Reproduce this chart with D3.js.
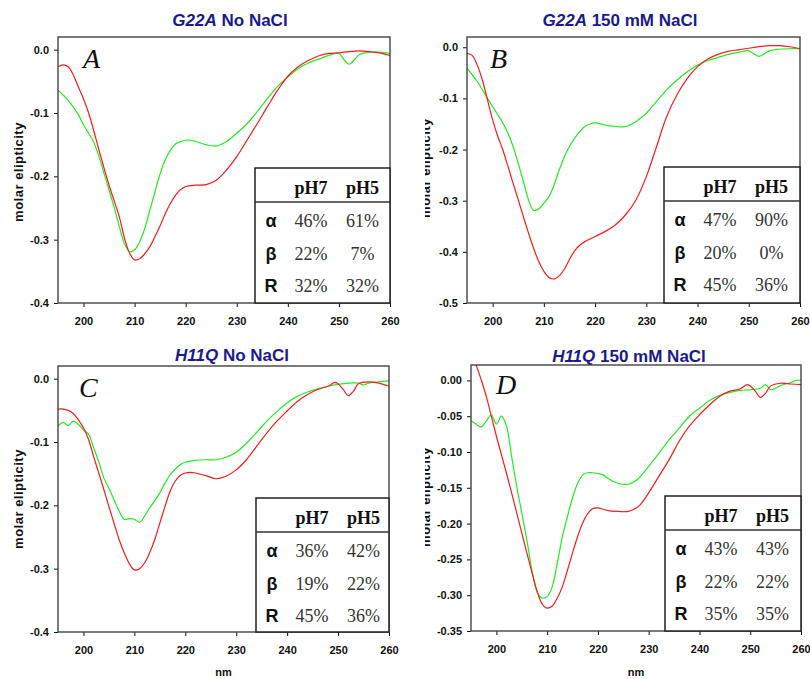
<!DOCTYPE html>
<html>
<head>
<meta charset="utf-8">
<script src="https://cdn.jsdelivr.net/npm/d3@7"></script>
<style>
  body { margin: 0; background: #fff; }
  svg { display: block; }
  .tick text { font-family: Arial, "Liberation Sans", sans-serif; font-weight: bold; font-size: 11px; fill: #111; }
</style>
</head>
<body>
<svg id="chart" width="810" height="679"></svg>
<script>
// ---------------- DATA ----------------
// Panel A : G22A, no NaCl
const nmA_red = [195,196,197,198,199,200,201,202,203,205,207,208,209,210,211,212,213,214,215,216,217,218,219,220,222,224,226,228,230,232,234,236,238,240,242,244,246,248,250,252,254,256,258,260];
const cdA_red = [-0.027,-0.024,-0.027,-0.040,-0.059,-0.078,-0.100,-0.128,-0.158,-0.214,-0.264,-0.297,-0.321,-0.332,-0.330,-0.322,-0.311,-0.295,-0.278,-0.259,-0.243,-0.230,-0.221,-0.216,-0.214,-0.213,-0.206,-0.190,-0.169,-0.143,-0.117,-0.090,-0.064,-0.042,-0.027,-0.017,-0.010,-0.006,-0.005,-0.003,-0.002,-0.003,-0.005,-0.009];
const nmA_green = [195,197,199,200,201,202,203,204,205,206,207,208,209,210,211,212,213,214,215,216,217,218,219,220,221,222,224,226,228,230,232,234,236,238,240,242,244,246,248,250,251,252,253,254,256,258,260];
const cdA_green = [-0.064,-0.080,-0.103,-0.119,-0.132,-0.146,-0.168,-0.195,-0.222,-0.249,-0.279,-0.306,-0.319,-0.316,-0.303,-0.282,-0.253,-0.224,-0.196,-0.174,-0.159,-0.149,-0.145,-0.143,-0.143,-0.145,-0.150,-0.152,-0.145,-0.132,-0.117,-0.098,-0.077,-0.058,-0.043,-0.030,-0.021,-0.015,-0.009,-0.006,-0.016,-0.023,-0.016,-0.008,-0.004,-0.004,-0.006];

// Panel B : G22A, 150 mM NaCl
const nmB_red = [195,196,197,198,199,200,201,202,203,204,205,206,207,208,209,210,211,212,213,214,215,216,217,218,220,222,224,226,228,230,232,234,236,238,240,242,244,246,248,250,252,254,256,258,260];
const cdB_red = [-0.012,-0.016,-0.035,-0.064,-0.103,-0.142,-0.174,-0.201,-0.233,-0.266,-0.298,-0.331,-0.363,-0.393,-0.419,-0.438,-0.450,-0.453,-0.447,-0.434,-0.415,-0.398,-0.387,-0.380,-0.370,-0.360,-0.347,-0.327,-0.298,-0.253,-0.194,-0.135,-0.093,-0.061,-0.038,-0.023,-0.014,-0.008,-0.005,-0.002,0.001,0.003,0.003,0.001,-0.003];
const nmB_green = [195,197,199,200,201,202,203,204,205,206,207,208,209,210,211,212,213,214,215,216,217,218,219,220,222,224,226,228,230,232,234,236,238,240,242,244,246,248,250,251,252,253,254,256,258,260];
const cdB_green = [-0.041,-0.067,-0.100,-0.116,-0.132,-0.148,-0.168,-0.194,-0.227,-0.262,-0.298,-0.319,-0.316,-0.305,-0.292,-0.269,-0.240,-0.214,-0.194,-0.178,-0.165,-0.155,-0.150,-0.148,-0.152,-0.155,-0.155,-0.145,-0.129,-0.106,-0.083,-0.064,-0.048,-0.035,-0.026,-0.020,-0.014,-0.010,-0.007,-0.013,-0.018,-0.013,-0.007,-0.004,-0.003,-0.003];

// Panel C : H11Q, no NaCl
const nmC_red = [195,196,197,198,199,200,201,202,203,204,205,206,207,208,209,210,211,212,213,214,215,216,217,218,219,220,221,222,224,226,228,230,232,234,236,238,240,242,244,246,248,249.5,251,252,253,254,256,258,260];
const cdC_red = [-0.048,-0.048,-0.050,-0.055,-0.065,-0.078,-0.096,-0.123,-0.149,-0.175,-0.202,-0.228,-0.254,-0.275,-0.292,-0.302,-0.300,-0.291,-0.275,-0.254,-0.228,-0.202,-0.178,-0.162,-0.153,-0.149,-0.148,-0.149,-0.153,-0.158,-0.154,-0.144,-0.128,-0.107,-0.086,-0.067,-0.051,-0.036,-0.025,-0.017,-0.012,-0.006,-0.017,-0.027,-0.020,-0.008,-0.005,-0.007,-0.012];
const nmC_green = [195,196,197,198,199,200,201,202,203,204,205,206,207,208,209,210,211,212,213,214,215,216,217,218,219,220,222,224,226,228,230,232,234,236,238,240,242,244,246,248,250,252,254,255,256,258,260];
const cdC_green = [-0.075,-0.069,-0.074,-0.067,-0.072,-0.081,-0.088,-0.109,-0.131,-0.157,-0.173,-0.191,-0.209,-0.222,-0.221,-0.222,-0.227,-0.217,-0.204,-0.193,-0.180,-0.165,-0.152,-0.143,-0.136,-0.132,-0.129,-0.128,-0.128,-0.124,-0.116,-0.102,-0.085,-0.067,-0.052,-0.038,-0.028,-0.021,-0.016,-0.012,-0.009,-0.007,-0.007,-0.010,-0.007,-0.005,-0.003];

// Panel D : H11Q, 150 mM NaCl
const nmD_red = [195,196,197,198,199,200,201,202,203,204,205,206,207,208,209,210,211,212,213,214,215,216,217,218,219,220,221,222,224,226,228,230,232,234,236,238,240,242,244,246,248,249.5,251,252,253,254,256,258,260];
const cdD_red = [0.043,0.022,0.001,-0.022,-0.050,-0.078,-0.104,-0.130,-0.157,-0.185,-0.213,-0.241,-0.268,-0.294,-0.312,-0.318,-0.315,-0.304,-0.288,-0.265,-0.241,-0.218,-0.199,-0.186,-0.179,-0.178,-0.180,-0.182,-0.183,-0.183,-0.176,-0.157,-0.134,-0.111,-0.085,-0.064,-0.048,-0.034,-0.022,-0.015,-0.012,-0.006,-0.015,-0.024,-0.018,-0.008,-0.004,-0.005,-0.006];
const nmD_green = [195,196,197,198,199,200,201,202,203,204,205,206,207,208,209,210,211,212,213,214,215,216,217,218,219,220,221,222,223,224,226,227,228,230,232,234,236,238,240,242,244,246,248,250,252,253,254,255,256,258,259,260];
const cdD_green = [-0.056,-0.061,-0.065,-0.057,-0.048,-0.061,-0.050,-0.064,-0.106,-0.148,-0.185,-0.223,-0.265,-0.295,-0.304,-0.302,-0.288,-0.255,-0.218,-0.190,-0.164,-0.144,-0.132,-0.129,-0.129,-0.130,-0.132,-0.137,-0.141,-0.144,-0.145,-0.142,-0.137,-0.120,-0.102,-0.083,-0.067,-0.050,-0.039,-0.028,-0.021,-0.017,-0.014,-0.013,-0.011,-0.006,-0.013,-0.011,-0.007,-0.003,0.000,0.000];

// Tick values
const xTicks = [200, 210, 220, 230, 240, 250, 260];
const yTicks1 = [0.0, -0.1, -0.2, -0.3, -0.4];
const yTicks2 = [0.0, -0.1, -0.2, -0.3, -0.4, -0.5];
const yTicks3 = [0.00, -0.05, -0.10, -0.15, -0.20, -0.25, -0.30, -0.35];

// Titles
const titleItalic = ["G22A", "G22A", "H11Q", "H11Q"];
const titleRest = [" No NaCl", " 150 mM NaCl", " No NaCl", " 150 mM NaCl"];
const panelLetters = ["A", "B", "C", "D"];

// Tables
const rowLabels = ["\u03B1", "\u03B2", "R"];
const colHeads = ["pH7", "pH5"];
const tabA_pH7 = ["46%", "22%", "32%"], tabA_pH5 = ["61%", "7%", "32%"];
const tabB_pH7 = ["47%", "20%", "45%"], tabB_pH5 = ["90%", "0%", "36%"];
const tabC_pH7 = ["36%", "19%", "45%"], tabC_pH5 = ["42%", "22%", "36%"];
const tabD_pH7 = ["43%", "22%", "35%"], tabD_pH5 = ["43%", "22%", "35%"];

// ---------------- LAYOUT ----------------
const SANS = 'Arial, "Liberation Sans", sans-serif';
const SERIF = '"Times New Roman", "Liberation Serif", serif';
const RED = "#ff1a1a", GREEN = "#22ee22", TITLE = "#1a1a8e";

const panels = [
  { l: 58, t: 37, r: 390, b: 303, yd: [-0.4, 0.02], yt: yTicks1, dec: 1,
    red: [nmA_red, cdA_red], green: [nmA_green, cdA_green], tab: [tabA_pH7, tabA_pH5],
    titleX: 230, titleY: 26, letDx: 25, letDy: 31, tabL: 255, tabT: 168,
    ylab: { x: 23, y: 172, clip: null }, nm: false },
  { l: 467, t: 37, r: 800, b: 303, yd: [-0.5, 0.02], yt: yTicks2, dec: 1,
    red: [nmB_red, cdB_red], green: [nmB_green, cdB_green], tab: [tabB_pH7, tabB_pH5],
    titleX: 620, titleY: 26, letDx: 23, letDy: 31, tabL: 664, tabT: 167,
    ylab: { x: 430, y: 168, clip: 425 }, nm: false },
  { l: 58, t: 366, r: 389, b: 632, yd: [-0.4, 0.02], yt: yTicks1, dec: 1,
    red: [nmC_red, cdC_red], green: [nmC_green, cdC_green], tab: [tabC_pH7, tabC_pH5],
    titleX: 232, titleY: 361, letDx: 21, letDy: 31, tabL: 256, tabT: 498,
    ylab: { x: 23, y: 499, clip: null }, nm: true },
  { l: 471, t: 365, r: 801, b: 631, yd: [-0.35, 0.0215], yt: yTicks3, dec: 2,
    red: [nmD_red, cdD_red], green: [nmD_green, cdD_green], tab: [tabD_pH7, tabD_pH5],
    titleX: 629, titleY: 362, letDx: 25, letDy: 29, tabL: 665, tabT: 496,
    ylab: { x: 430, y: 497, clip: 425 }, nm: true }
];

const svg = d3.select("#chart");
const defs = svg.append("defs");

panels.forEach((p, i) => {
  const g = svg.append("g");
  const x = d3.scaleLinear().domain([195, 260]).range([p.l, p.r]);
  const y = d3.scaleLinear().domain(p.yd).range([p.b, p.t]);

  defs.append("clipPath").attr("id", "clip" + i)
    .append("rect").attr("x", p.l).attr("y", p.t).attr("width", p.r - p.l).attr("height", p.b - p.t);

  // title
  const tt = g.append("text").attr("x", p.titleX).attr("y", p.titleY)
    .attr("text-anchor", "middle").attr("font-family", SANS).attr("font-weight", "bold")
    .attr("font-size", "17px").attr("fill", TITLE);
  tt.append("tspan").attr("font-style", "italic").text(titleItalic[i]);
  tt.append("tspan").text(titleRest[i]);

  // axes
  const ax = g.append("g").attr("transform", `translate(0,${p.b})`)
    .call(d3.axisBottom(x).tickValues(xTicks).tickSize(4).tickPadding(10).tickFormat(d3.format("d")));
  ax.select(".domain").remove();
  ax.selectAll(".tick line").attr("stroke", "#111");

  const ay = g.append("g").attr("transform", `translate(${p.l},0)`)
    .call(d3.axisLeft(y).tickValues(p.yt).tickSize(4).tickPadding(5).tickFormat(d => d.toFixed(p.dec)));
  ay.select(".domain").remove();
  ay.selectAll(".tick line").attr("stroke", "#111");

  // y axis title
  let lab = g.append("g");
  if (p.ylab.clip !== null) {
    defs.append("clipPath").attr("id", "ylc" + i)
      .append("rect").attr("x", p.ylab.clip).attr("y", p.t).attr("width", 20).attr("height", p.b - p.t);
    lab.attr("clip-path", `url(#ylc${i})`);
  }
  lab.append("text").attr("transform", `translate(${p.ylab.x},${p.ylab.y}) rotate(-90)`)
    .attr("text-anchor", "middle").attr("font-family", SANS).attr("font-weight", "bold")
    .attr("font-size", "13px").attr("letter-spacing", "0.5px").attr("fill", "#111")
    .text("molar elipticity");

  if (p.nm) {
    g.append("text").attr("x", (p.l + p.r) / 2).attr("y", 676)
      .attr("text-anchor", "middle").attr("font-family", SANS).attr("font-weight", "bold")
      .attr("font-size", "11px").attr("fill", "#111").text("nm");
  }

  // lines
  const line = d3.line().x(d => x(d[0])).y(d => y(d[1])).curve(d3.curveCatmullRom.alpha(0.5));
  const lines = g.append("g").attr("clip-path", `url(#clip${i})`);
  const series = [[p.green, GREEN], [p.red, RED]];
  series.forEach(([s, c]) => {
    const pts = s[0].map((v, k) => [v, s[1][k]]);
    lines.append("path").datum(pts).attr("d", line)
      .attr("fill", "none").attr("stroke", c).attr("stroke-width", 1.2);
  });

  // frame
  g.append("rect").attr("x", p.l).attr("y", p.t).attr("width", p.r - p.l).attr("height", p.b - p.t)
    .attr("fill", "none").attr("stroke", "#444").attr("stroke-width", 1.4);

  // panel letter
  g.append("text").attr("x", p.l + p.letDx).attr("y", p.t + p.letDy)
    .attr("font-family", SERIF).attr("font-style", "italic").attr("font-size", "28px")
    .attr("fill", "#111").text(panelLetters[i]);

  // table
  const tl = p.tabL, tT = p.tabT, tr = p.r, tb = p.b;
  const tg = g.append("g");
  tg.append("rect").attr("x", tl).attr("y", tT).attr("width", tr - tl).attr("height", tb - tT)
    .attr("fill", "#fff").attr("stroke", "none");
  tg.append("path").attr("d", `M${tl},${tb} V${tT} H${tr} V${tb} Z`)
    .attr("fill", "none").attr("stroke", "#222").attr("stroke-width", 1.5);
  tg.append("line").attr("x1", tl).attr("x2", tr).attr("y1", tT + 34).attr("y2", tT + 34)
    .attr("stroke", "#333").attr("stroke-width", 1.3);
  const colX = [tl + 56, tl + 107.5];
  colHeads.forEach((h, c) => {
    tg.append("text").attr("x", colX[c]).attr("y", tT + 26).attr("text-anchor", "middle")
      .attr("font-family", SERIF).attr("font-weight", "bold").attr("font-size", "18px")
      .attr("fill", "#111").text(h);
  });
  const rowY = [tT + 59, tT + 92, tT + 124];
  rowLabels.forEach((rl, r) => {
    tg.append("text").attr("x", tl + 16).attr("y", rowY[r]).attr("text-anchor", "middle")
      .attr("font-family", SANS).attr("font-weight", "bold").attr("font-size", "18px")
      .attr("fill", "#111").text(rl);
    p.tab.forEach((col, c) => {
      tg.append("text").attr("x", colX[c]).attr("y", rowY[r]).attr("text-anchor", "middle")
        .attr("font-family", SERIF).attr("font-size", "18px")
        .attr("fill", "#333").text(col[r]);
    });
  });
});
</script>
</body>
</html>
